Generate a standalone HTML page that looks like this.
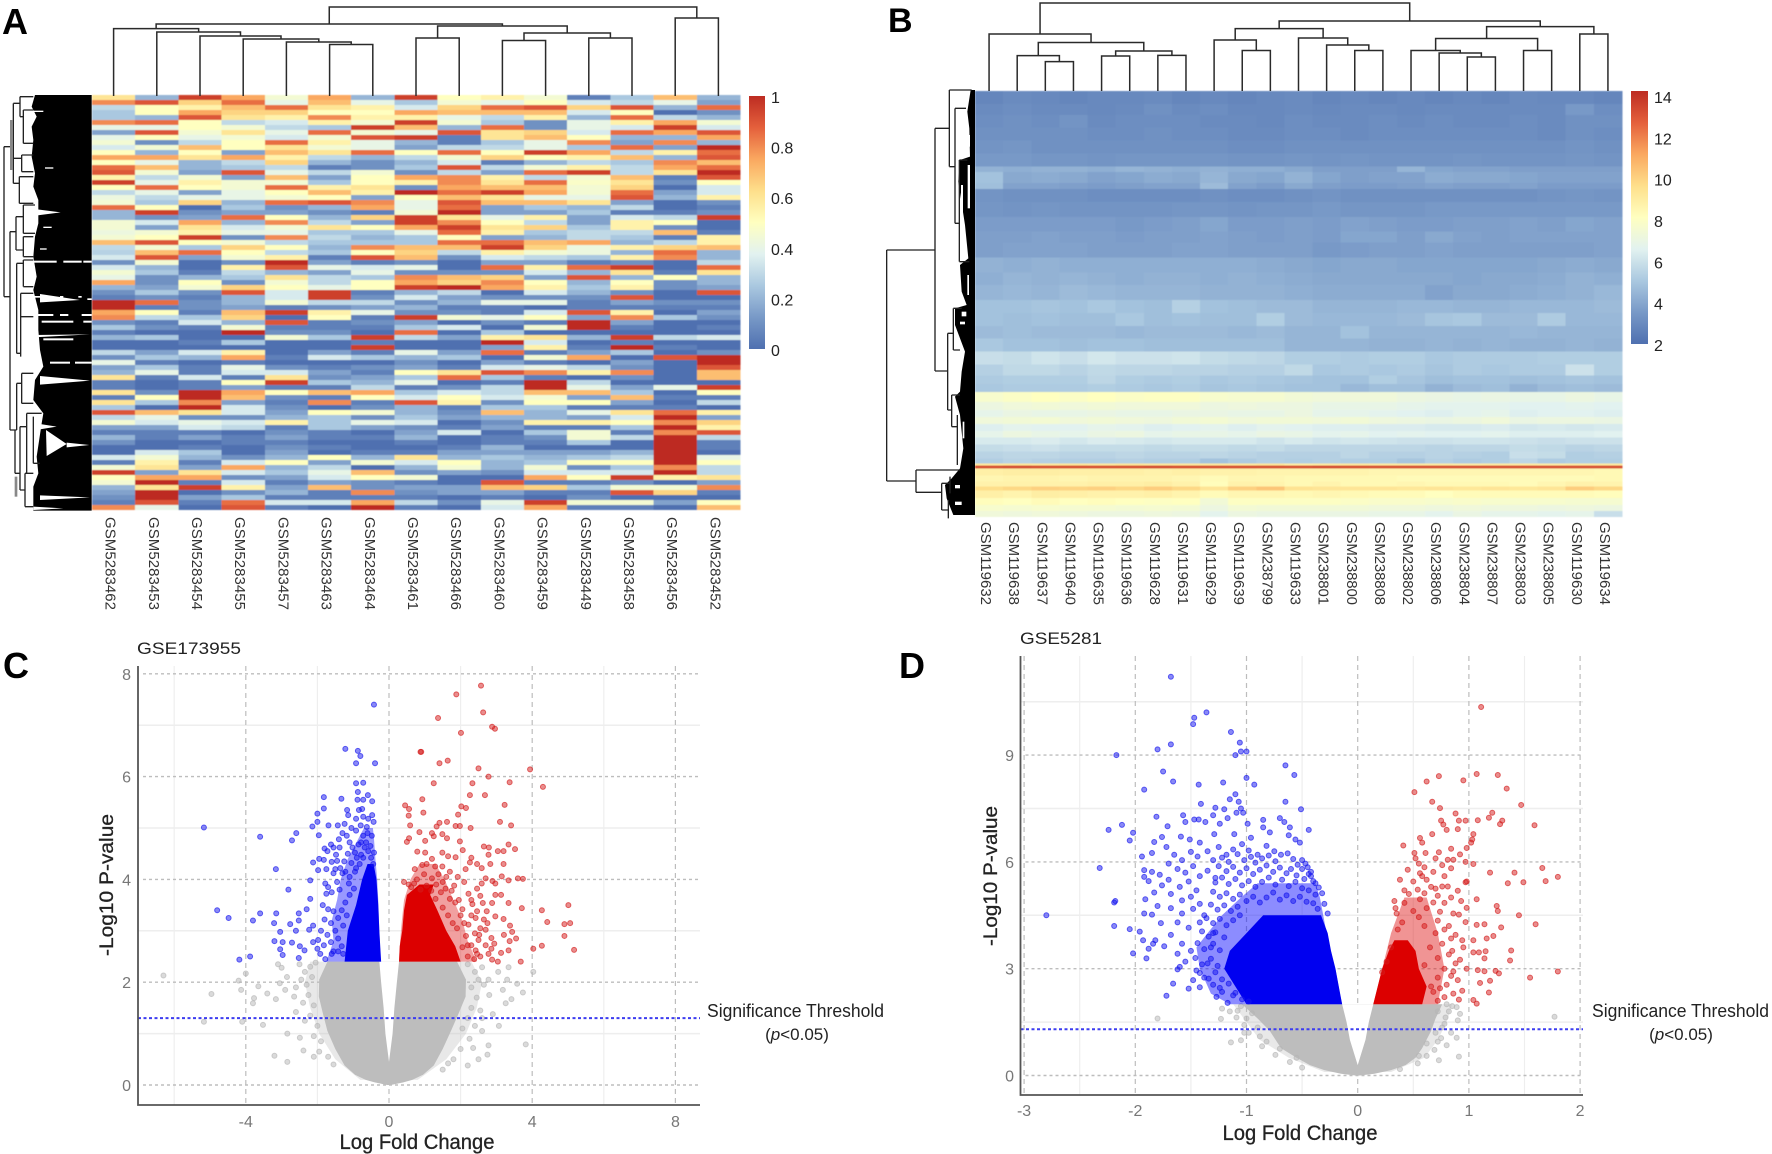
<!DOCTYPE html>
<html lang="en">
<head>
<meta charset="utf-8">
<title>Heatmaps and volcano plots</title>
<style>
html,body{margin:0;padding:0;background:#fff}
svg{display:block}
text{font-family:"Liberation Sans",sans-serif}
</style>
</head>
<body>
<svg id="figure" xmlns="http://www.w3.org/2000/svg" width="1772" height="1154" viewBox="0 0 1772 1154">
<defs>
<linearGradient id="rdylbu" x1="0" y1="1" x2="0" y2="0">
<stop offset="0" stop-color="#4F70B0"/><stop offset=".125" stop-color="#7899C7"/><stop offset=".25" stop-color="#AAC8E0"/><stop offset=".375" stop-color="#E2F2F0"/><stop offset=".5" stop-color="#FFFFC0"/><stop offset=".625" stop-color="#FEDF8B"/><stop offset=".75" stop-color="#FAA860"/><stop offset=".875" stop-color="#E4603C"/><stop offset="1" stop-color="#BD2C22"/>
</linearGradient>
<filter id="soft" x="-2%" y="-2%" width="104%" height="104%"><feGaussianBlur stdDeviation="0.6"/></filter>
</defs>
<rect width="1772" height="1154" fill="#fff"/>

<text x="2" y="34" font-size="36" font-weight="700">A</text>
<text x="888" y="32" font-size="34" font-weight="700">B</text>
<text x="3" y="678" font-size="36" font-weight="700">C</text>
<text x="899" y="678" font-size="36" font-weight="700">D</text>

<g id="panelA"></g>
<g id="panelB"></g>

<g transform="translate(0 90) scale(.33333)">
<polygon fill="#000" points="275,15 105,15 95,50 110,80 95,110 100,150 95,200 105,250 100,290 115,330 115,400 105,440 100,500 110,560 100,600 115,660 115,720 120,780 130,830 105,870 100,930 130,970 125,1000 110,1100 115,1150 100,1190 100,1262 275,1262"/>
<g fill="#fff">
<polygon points="112,358 182,367 112,376"/><polygon points="120,612 240,630 120,637"/><polygon points="120,858 270,872 120,884"/><polygon points="138,1020 200,1062 140,1098"/><polygon points="120,1216 270,1222 120,1230"/><polygon points="100,1250 190,1255 100,1260"/><polygon points="108,1000 170,1010 108,1020"/><polygon points="200,1058 268,1065 200,1072"/><polygon points="100,735 270,733 100,742"/>
<rect x="95" y="512" width="75" height="6"/><rect x="190" y="512" width="55" height="6"/><rect x="250" y="512" width="25" height="6"/>
<rect x="95" y="618" width="60" height="5"/><rect x="180" y="618" width="10" height="5"/><rect x="235" y="618" width="10" height="5"/><rect x="262" y="625" width="13" height="5"/>
<rect x="100" y="672" width="60" height="6"/><rect x="180" y="672" width="25" height="6"/><rect x="245" y="672" width="30" height="6"/>
<rect x="125" y="692" width="95" height="6"/><rect x="250" y="692" width="25" height="6"/><rect x="130" y="745" width="90" height="6"/><rect x="150" y="815" width="60" height="6"/><rect x="225" y="815" width="50" height="6"/>
<rect x="120" y="475" width="20" height="4"/><rect x="130" y="410" width="25" height="4"/><rect x="135" y="232" width="25" height="4"/><rect x="100" y="62" width="30" height="4"/>
</g>
<path fill="none" stroke="#222" stroke-width="4" d="M12 170V620M12 170H40M12 620H30M40 40V280M40 40H60M60 20V80M60 20H100M60 80H70M70 60V160M70 60H100M70 160H100M40 205H65M65 195V245M65 195H100M65 245H100M40 280H58M58 260V340M58 260H100M58 340H100M30 425V1020M30 425H48M48 380V480M48 380H70M70 345V430M70 345H105M70 430H105M48 480H70M70 440V500M70 440H100M70 500H100M50 520V790M50 520H70M70 510V590M70 510H100M70 590H100M50 790H62M62 610V800M62 610H100M62 680H100M30 1020H50M50 880V1020M50 880H65M65 850V940M65 850H100M65 940H100M45 1020V1150M45 1150H60M60 1010V1200M60 1010H80M80 970V1150M80 970H125M100 980V1120M100 1120H120M60 1200H75M75 1150V1250M75 1150H100M75 1250H100"/>
<rect x="30" y="90" width="9" height="150" fill="#888"/>
<rect x="44" y="1160" width="8" height="60" fill="#888"/>
</g>

<g transform="translate(880 85) scale(.33333)">
<polygon fill="#000" points="285,15 272,15 262,80 268,130 270,215 240,225 235,290 255,420 265,520 240,540 245,620 260,660 225,670 225,720 255,800 245,860 240,920 225,935 240,990 250,1090 240,1150 215,1180 195,1200 200,1240 220,1290 285,1290"/>
<g fill="#fff">
<rect x="263" y="240" width="7" height="130"/><rect x="243" y="300" width="6" height="90"/><rect x="262" y="570" width="5" height="60"/><rect x="245" y="680" width="14" height="14"/><rect x="240" y="710" width="15" height="8"/><rect x="265" y="150" width="5" height="35"/><rect x="248" y="1010" width="5" height="50"/><rect x="225" y="1200" width="15" height="10"/><rect x="225" y="1250" width="20" height="10"/>
</g>
<path fill="none" stroke="#222" stroke-width="4" d="M20 495V1188M20 495H165M20 1188H108M165 130V858M165 130H208M165 858H203M208 15V245M208 15H275M208 245H225M225 70V415M225 70H258M225 415H238M238 225V530M238 225H262M238 530H268M203 745V975M203 745H220M203 975H215M220 670V795M220 670H245M220 795H240M215 930V1025M215 930H240M215 1025H232M232 990V1140M108 1155V1222M108 1155H240M108 1222H185M185 1195V1275M185 1195H210M185 1275H205M210 1175V1225M205 1245V1300"/>
</g>

<g id="panelC"></g>
<g id="panelD"></g>

<text x="137" y="654" font-size="17" fill="#222" textLength="104" lengthAdjust="spacingAndGlyphs">GSE173955</text>
<text x="1020" y="644" font-size="17" fill="#222" textLength="82" lengthAdjust="spacingAndGlyphs">GSE5281</text>
<text x="417" y="1149" text-anchor="middle" font-size="21" fill="#222" stroke="#222" stroke-width=".3" textLength="155" lengthAdjust="spacingAndGlyphs">Log Fold Change</text>
<text x="1300" y="1140" text-anchor="middle" font-size="21" fill="#222" stroke="#222" stroke-width=".3" textLength="155" lengthAdjust="spacingAndGlyphs">Log Fold Change</text>
<text transform="translate(113 885) rotate(-90)" text-anchor="middle" font-size="19" fill="#222" stroke="#222" stroke-width=".3" textLength="142" lengthAdjust="spacingAndGlyphs">-Log10 P-value</text>
<text transform="translate(997 876) rotate(-90)" text-anchor="middle" font-size="19" fill="#222" stroke="#222" stroke-width=".3" textLength="140" lengthAdjust="spacingAndGlyphs">-Log10 P-value</text>
<text x="707" y="1017" font-size="18" fill="#222" textLength="177" lengthAdjust="spacingAndGlyphs">Significance Threshold</text>
<text x="797" y="1040" text-anchor="middle" font-size="17" fill="#222">(<tspan font-style="italic">p</tspan>&lt;0.05)</text>
<text x="1592" y="1017" font-size="18" fill="#222" textLength="177" lengthAdjust="spacingAndGlyphs">Significance Threshold</text>
<text x="1681" y="1040" text-anchor="middle" font-size="17" fill="#222">(<tspan font-style="italic">p</tspan>&lt;0.05)</text>
</svg>

<script>
/* ---------- Heatmap A data: one array per sample column, values 0-1 ---------- */
const heatASamples = ['GSM5283462','GSM5283453','GSM5283454','GSM5283455','GSM5283457','GSM5283463','GSM5283464','GSM5283461','GSM5283466','GSM5283460','GSM5283459','GSM5283449','GSM5283458','GSM5283456','GSM5283452'];
const heatAColumns = [
[.6,.8,.3,.25,.25,.8,.4,.15,.4,.45,.35,.5,.75,.5,.85,.9,.55,.95,.5,.3,.42,.45,.85,.2,.2,.45,.45,.42,.45,.7,.3,.28,.35,.1,.35,.45,.4,.75,.2,.1,.05,1,
 1,.75,.8,.1,.25,.05,.2,0,0,.3,.1,.4,.15,.2,.6,.05,.05,.6,.05,.6,.25,.9,.3,.45,.15,.05,.2,.1,0,0,.35,.05,.45,.95,.5,.45,.2,.15,.1,.05,.8],
[.2,.9,.5,.5,.2,.85,.4,.9,.5,.1,.45,.2,.75,.4,.7,.45,.3,.4,.85,.4,.3,.25,.5,.95,.1,.35,.15,.45,.5,.9,.45,.7,.9,.45,.2,.25,.1,.1,.15,.25,.1,.85,
 .05,.5,.3,.05,.1,0,.25,0,0,.15,.25,.05,.25,.4,.05,0,0,.1,.5,.25,0,.7,.4,.35,.15,.05,.05,0,0,.35,.45,.55,.6,.15,.75,1,.6,1,1,.9,.4],
[.95,.65,.55,.75,.9,.5,.5,.45,.4,.3,.7,.5,.6,.2,.2,.15,.45,.55,.5,.15,.4,.65,0,.1,.15,.75,.6,.55,.95,.5,.25,.85,.15,0,0,.05,.2,.5,.45,.1,.05,.1,
 .1,.05,.25,.35,.05,0,0,.05,0,.35,.2,0,.05,.05,.35,.05,.05,1,1,.8,1,.6,.1,.4,.35,.05,.15,0,.05,.25,.2,.05,.15,.6,.75,.05,.95,0,.15,.05,0],
[.75,.85,.7,.65,.6,.3,.45,.6,.45,.5,.5,.15,.75,.3,.25,.9,.15,.45,.45,.4,.4,.2,.25,.15,.85,.2,.35,.4,.1,.45,.65,.5,.45,.1,.55,.3,.25,.1,.65,.9,.2,.2,
 .15,.7,.65,.2,.45,1,0,.25,0,.55,.75,.05,.4,.35,.05,.5,.15,.75,.7,.15,.35,.35,.1,.35,.3,0,.05,.05,0,0,.1,.35,.75,.35,.1,.35,.55,.1,.25,.85,.9],
[.45,.4,.85,.65,.55,.35,.3,.4,.35,.85,.6,.7,.55,.65,.3,.4,.7,.45,.85,.5,.45,.85,.1,.15,.5,.8,.45,.4,.8,.3,.5,.3,.55,1,.9,.2,.6,.45,.5,.35,.35,.45,
 .05,.95,0,.9,.05,.1,.45,0,0,0,.05,0,.1,.35,.6,.95,.05,.5,.1,.05,.1,.15,.2,.55,.05,.1,.15,.05,.1,.15,.2,.5,.2,.25,.15,.05,.15,.2,.05,.35,.05],
[.75,.7,.6,.5,.8,.55,.25,.85,.45,.55,.45,.6,.3,.2,.05,.3,.15,.25,.55,.7,.5,.9,.2,.1,.2,.3,.6,.25,.3,.25,.2,.25,.05,.15,.4,.15,.3,.3,.4,.95,.95,.3,
 .1,.55,.5,.05,.05,.1,.25,0,0,.15,.35,0,.05,.15,.1,.25,.05,.7,.05,.8,0,.5,.25,.25,.25,.05,.05,0,.05,0,.5,.15,.3,.4,.35,.15,.7,.05,.05,.35,0],
[.2,.4,.55,.5,.55,.45,.95,.45,.9,.4,.4,.85,.2,.1,.1,.45,.5,.5,.6,.55,.15,.8,.75,.05,.65,.15,.5,.25,.2,.25,.8,.5,.9,.05,.35,.4,.25,.5,.5,.05,.1,.3,
 .15,.4,.05,.1,.05,0,.95,.05,.95,.05,.25,0,.1,.05,.15,.2,.3,.75,.5,.05,.1,.45,.1,.4,.15,0,.05,0,0,.05,.2,.45,0,.7,.5,.1,.1,.8,.05,.75,1],
[.95,.25,.35,.75,.55,.95,.7,.4,.95,.2,.15,.5,.3,.2,.25,.1,.75,.55,.1,1,.5,.4,.4,.45,.95,.95,.75,.4,.25,.25,.7,.65,.7,.1,.4,.1,.8,.75,.95,.2,.35,.1,
 .2,.1,.95,.15,.25,.85,.3,0,0,.4,.2,.1,.15,.5,.25,.4,.05,.25,.35,.9,.2,.2,.25,.35,.1,.15,.2,.05,0,.05,.6,.35,.2,.1,.45,.05,.15,.1,.05,.3,.05],
[.5,.45,.65,.7,.4,.45,.2,.9,.05,.05,.3,.85,.45,.35,.9,.3,.8,.8,.75,.85,.7,.9,.85,1,.6,.8,.95,.85,.5,.85,.7,.3,.1,0,0,.1,.7,.65,1,.3,.15,.2,
 .05,.1,.45,0,.35,0,.15,0,0,.15,.25,0,.05,.6,.85,0,.1,.35,.5,.55,.05,.1,.15,0,.05,.35,0,0,.05,.15,.2,.5,.45,.15,0,0,.15,.15,0,.1,0],
[.55,.4,.85,.7,.3,.25,.85,.6,.6,.25,.3,.5,.65,.05,.3,.15,.55,.6,.7,.95,.6,.7,.15,.15,.4,.5,.6,.55,.15,.85,.95,.55,.35,.15,.85,.1,.65,.8,.75,0,.1,.4,
 .05,.05,.4,.1,0,.25,.55,1,.15,.85,0,.15,.35,.9,.25,.05,.3,.3,.35,.1,.25,.7,.2,.1,.15,0,.05,.05,.2,.15,.25,.2,.2,.1,0,.9,.7,.15,.05,.4,.35],
[.45,.5,.9,.7,.55,.1,.1,.65,.7,.4,.4,.95,.5,.2,.45,.85,.3,.85,.7,.75,.4,.7,.25,.15,.55,.3,.65,.25,.2,.7,.65,.45,.3,.15,.55,.35,.15,.5,.55,.35,.1,.4,
 0,.35,.5,.05,.45,0,.6,.35,.55,.05,.45,.05,.4,.8,.05,1,1,.7,.45,.5,.25,.2,.2,.55,.05,.25,.1,.05,0,.15,.2,.25,.45,.35,.75,.05,.65,.05,0,.95,.75],
[.05,.35,.65,.35,.2,.4,.4,.35,.5,.8,.25,.75,.55,.3,.55,.95,.45,.48,.45,.45,.4,.6,.2,.25,.15,.15,.25,.3,.3,.75,.42,.42,.25,.05,.85,.2,.9,.2,.25,.2,.1,.05,
 .05,.9,.15,1,1,0,.2,0,.05,.15,.75,0,.3,.55,0,.3,.4,.7,.15,.5,.05,.4,.15,.55,.05,.45,.45,.25,0,.15,.25,.5,.1,.35,.5,.05,.25,.05,.1,.45,.05],
[.25,.3,.9,.5,.85,.55,.35,.85,.2,.15,.85,.3,.7,.25,.3,.3,.7,.6,.65,.85,.9,.15,.3,.05,.35,.55,.55,.3,.25,.2,.55,.2,.55,.1,.95,.6,.2,.5,.55,.1,.9,.15,
 .05,.55,.8,.15,.05,0,.95,.05,1,.25,0,.15,.1,.8,.1,0,.15,.25,.7,.15,.05,.6,.35,.5,.25,.05,.3,0,0,.2,.3,.5,.25,.35,.95,.1,.45,.9,0,.45,.05],
[.7,.4,.2,0,.3,.75,.95,.75,.2,.8,.15,.55,.2,.8,.75,.6,.05,.1,0,.15,.2,0,0,.05,.3,.5,.1,.7,.05,.3,.65,.85,.8,0,0,.05,.5,.1,.1,0,0,.1,
 .05,0,.25,0,0,0,.3,0,.05,0,.9,0,0,0,0,0,.4,0,.05,0,.05,.85,1,.8,1,.8,1,1,1,1,1,1,.8,1,.55,0,.45,.65,0,.15,0],
[.2,.15,.85,.1,.2,.45,.35,.9,.75,.2,1,.85,.9,.7,.85,1,.9,.5,.35,.35,.55,.1,.05,.1,.95,0,0,.05,.55,.55,.7,.2,.2,.3,.85,.6,.2,.2,.15,.9,0,.1,
 .05,.15,.1,0,.05,0,.35,0,0,.1,1,1,.9,.7,.7,0,.95,.5,.05,.3,0,.55,.15,.65,.55,.9,.3,.05,.05,0,.4,.5,.3,.3,.6,.15,.8,.05,0,.5,.7]
];
const heatATicks = [1,.8,.6,.4,.2,0];

/* ---------- Heatmap B data: rows of expression values per sample, plus genes in each row band ---------- */
const heatBSamples = ['GSM119632','GSM119638','GSM119637','GSM119640','GSM119635','GSM119636','GSM119628','GSM119631','GSM119629','GSM119639','GSM238799','GSM119633','GSM238801','GSM238800','GSM238808','GSM238802','GSM238806','GSM238804','GSM238807','GSM238803','GSM238805','GSM119630','GSM119634'];
const heatBRowGenes = [13,11,13,13,13,13,6,11,6,13,15,15,11,15,15,13,15,13,13,13,13,13,11,9,8,10,8,7,7,7,7,7,7,7,5,2,3,7,6,5,4,8,7,6,6];
const heatBRows = [
[2.8,3,2.9,2.8,2.9,2.9,3,2.8,2.9,2.8,2.9,3,2.8,2.9,2.8,2.9,2.8,2.9,2.8,3,2.9,2.9,2.8],
[3,3.1,3,3,2.9,3,3.2,3,3.1,2.9,2.9,3,2.9,3,3,2.9,3,3,3,3,3,3.5,3.1],
[3.1,3.2,3.1,3.3,3,3.1,3.1,3.1,3,3,2.9,3.1,3,3,3.1,3,3.1,3,3,3.1,3,3.2,3.2],
[3.2,3.2,3.2,3.2,3.1,3.1,3.2,3.1,3.1,3,3,3.1,3.1,3,3.1,3.1,3.1,3.1,3.1,3.1,3,3.2,3.1],
[3.3,3.4,3.2,3.2,3.2,3.2,3.2,3.2,3.2,3.1,3.1,3.2,3.2,3.2,3.2,3.2,3.2,3.2,3.2,3.2,3.2,3.3,3.2],
[3.5,3.5,3.4,3.4,3.3,3.4,3.4,3.4,3.4,3.3,3.3,3.4,3.3,3.4,3.3,3.3,3.3,3.4,3.3,3.3,3.3,3.4,3.3],
[4.3,4.2,4.3,4.3,4.2,4.4,4.3,4.2,4.3,4.2,4.2,4,3.7,3.7,3.7,4.4,3.9,3.8,3.8,3.7,3.7,3.7,3.7],
[4.8,4,4.1,4,3.8,3.9,4.1,4,4.4,4,3.9,4.3,3.9,3.7,3.8,3.8,4.1,4,4,3.9,3.8,3.8,3.8],
[4.7,3.8,3.8,3.7,3.6,3.7,3.8,3.8,4.6,3.8,3.6,4,3.7,3.6,3.6,3.7,3.8,3.7,3.7,3.8,3.6,3.6,3.6],
[3.3,3.2,3.2,3.2,3.1,3.1,3.1,3.1,3.2,3.1,3.1,3.2,3.3,3.2,3.2,3.2,3.2,3.2,3.2,3.2,3.3,3.4,3.3],
[3.4,3.3,3.4,3.3,3.3,3.3,3.3,3.4,3.4,3.3,3.4,3.4,3.5,3.4,3.4,3.4,3.5,3.5,3.5,3.5,3.5,3.5,3.5],
[3.6,3.6,3.6,3.6,3.6,3.5,3.6,3.7,3.9,3.6,3.6,3.7,3.6,3.8,3.7,3.6,3.6,3.7,3.7,3.8,3.7,3.9,3.8],
[3.7,3.7,3.8,3.7,3.7,3.6,3.7,3.7,3.8,3.7,3.6,3.7,3.6,3.9,3.9,3.7,4,3.8,3.7,3.8,3.8,3.8,3.8],
[3.7,3.8,3.8,3.8,3.7,3.7,3.7,3.8,3.8,3.7,3.7,3.7,3.5,3.6,3.7,3.7,3.8,3.7,3.7,3.7,3.7,3.7,3.8],
[4.3,4.2,4.3,4.2,4.2,4.2,4.2,4.2,4.2,4.2,4.1,4,3.9,4,4,3.9,3.9,3.9,3.9,3.9,4,4.1,4],
[4.2,4.4,4.3,4.4,4.3,4.2,4.3,4.3,4.2,4.3,4.2,4.1,4,4,4,4,4,3.9,4,4,4.1,4.3,4.2],
[4.4,4.5,4.4,4.6,4.5,4.4,4.4,4.4,4.3,4.3,4.3,4.2,4.1,4.1,4.1,4.1,3.8,4,4,4.1,4.2,4.3,4.5],
[4.8,4.8,4.9,4.8,5,4.8,4.7,5.3,4.8,4.7,4.6,4.6,4.4,4.4,4.4,4.5,4.5,4.4,4.4,4.5,4.5,4.5,4.6],
[4.8,4.7,4.8,4.7,4.7,5,4.7,4.8,4.7,4.7,5.2,4.6,4.5,4.5,4.5,4.6,4.9,5,4.6,4.6,5.1,4.5,4.5],
[4.6,4.7,4.6,4.6,4.6,4.5,4.6,4.6,4.6,4.5,4.6,4.4,4.4,4.8,4.4,4.4,4.4,4.4,4.4,4.5,4.4,4.4,4.4],
[5,4.8,4.8,4.7,4.8,4.8,4.7,4.7,4.7,4.7,4.7,4.4,4.4,4.4,4.3,4.3,4.4,4.3,4.4,4.3,4.3,4.4,4.3],
[5.8,5.7,6,5.8,6.1,5.9,5.9,6,5.7,5.6,5.5,5.2,5.2,5.1,5.2,5.2,5,5.1,5.1,5.1,5.2,5.2,5.2],
[5.3,5.6,5.6,5.4,5.6,5.5,5.5,5.4,5.4,5.3,5.3,5.6,5,5.1,5,5.1,4.9,5.1,5,5.1,5.1,5.9,5.2],
[5.1,5.2,5.2,5.2,5.5,5.2,5.1,5.2,5,5.1,5,4.9,4.8,4.8,5.2,4.9,4.7,4.8,4.8,4.7,4.8,4.9,4.8],
[5,5.1,5.1,5.1,5.2,5.1,5,5.1,4.9,5,4.9,4.8,4.8,4.5,4.7,4.7,4.3,4.6,4.7,4.3,4.6,4.7,4.6],
[7.6,7.8,8,7.8,8,7.8,7.9,7.9,7.6,7.5,7.5,7.3,7.2,7.2,7.2,7,6.9,6.8,6.9,6.8,6.8,7,6.8],
[7,7.2,7.3,7.2,7.3,7.2,7.2,7.2,7,7.1,7,7,6.8,6.8,6.8,6.7,6.6,6.6,6.6,6.5,6.5,6.6,6.5],
[6.7,6.9,6.8,6.8,6.9,6.8,6.8,6.9,6.9,6.8,6.8,7,6.7,6.7,6.6,6.5,6.4,6.6,6.7,6.4,6.5,6.5,6.4],
[7.2,7.3,7.4,7.2,7.3,7.2,7.1,7.3,7.4,7.2,7.3,7.3,7.2,7.3,7.1,7,6.9,7,7.2,6.9,7,7,6.9],
[6.4,6.6,6.5,6.5,6.7,6.6,6.4,6.5,6.6,6.4,6.6,6.5,6.4,6.4,6.3,6.3,6.2,6.2,6.3,6.1,6.2,6.1,6.2],
[6.7,7,6.8,6.7,6.9,7,6.7,6.8,6.8,6.7,6.9,6.8,6.6,6.7,6.5,6.6,6.5,6.5,6.6,6.4,6.4,6.4,6.5],
[6.2,6.2,6.3,6.1,6.3,6.2,6.1,6.2,6.2,6.2,6,6.2,6,6.1,6,5.9,5.9,6,6,5.9,5.8,5.9,5.9],
[5.7,5.8,5.9,5.7,5.7,5.7,5.6,5.7,5.7,5.6,5.7,5.5,5.5,5.5,5.5,5.5,5.4,5.5,5.5,5.7,5.6,5.4,5.5],
[5.4,5.5,5.5,5.4,5.4,5.5,5.4,5.4,5.5,5.4,5.3,5.3,5.3,5.5,5.3,5.3,5.4,5.3,5.2,5.8,5.7,5.2,5.3],
[5.2,5.4,5.3,5.2,5.2,5.3,5.2,5.2,4.8,5.1,5.3,5.2,5.3,5.2,5.2,4.9,5.3,5.1,5.2,5.5,5.1,5.2,5.2],
[9,9.1,9,9.1,9,9.1,9,9,9,9,9.1,8.8,8.9,9,8.9,8.9,8.9,8.8,8.9,8.9,8.8,8.9,8.9],
[13,13.1,13,13,13,13,13.1,13,13,13,13,13,13.1,13,13,13,13,13,13,13,13,13,13],
[8.7,8.8,8.8,8.7,8.7,8.7,8.6,8.7,8.6,8.6,8.5,8.5,8.5,8.5,8.4,8.4,8.4,8.4,8.4,8.4,8.4,8.4,8.3],
[8.4,8.5,8.5,8.4,8.5,8.5,8.5,8.4,8.2,8.4,8.4,8.3,8.3,8.3,8.3,8.2,8.2,8.2,8.2,8.2,8.2,8.2,8.3],
[8.6,8.6,8.6,8.6,8.7,8.7,8.8,8.6,8.1,8.6,8.5,8.3,8.5,8.3,8.3,8.4,8.3,8.3,8.3,8.2,8.4,8.6,8.5],
[9.5,9.7,9.9,9.8,9.9,9.7,10,9.7,9.2,9.9,10.2,9.3,9.2,9.2,9.2,9.1,9.2,9.1,9.2,9.1,9.2,10,9.7],
[8.7,8.5,8.8,8.7,8.6,8.6,8.7,8.5,8.2,8.4,8.4,8.3,8.4,8.3,8.2,8.2,8,8.2,8.2,8.2,8.2,8.2,8.1],
[8.1,8,8.2,8,8.1,8,7.9,8,7.3,7.9,7.9,7.9,7.9,7.8,7.7,7.7,7.6,7.7,7.6,7.6,7.6,7.5,7.5],
[7.6,7.5,7.6,7.5,7.5,7.4,7.5,7.4,7,7.4,7.3,7.3,7.3,7.3,7.2,7.2,7.1,7.2,7.1,7.1,7,7.1,7],
[7.2,7.1,7.2,7.1,7,7,7.1,7,6.6,7,6.9,6.9,6.9,6.9,6.8,6.8,6.6,6.9,6.7,6.7,6.6,6.7,5.8]
];
const heatBTicks = [14,12,10,8,6,4,2];

/* ---------- Dendrogram trees: [height, left, right], leaves are column indices ---------- */
const heatATree = [89,[72,[67.4,0,[64,1,[60,2,[57,3,[54,4,[51.5,5,6]]]]]],[70,[58,7,8],[63,[55.5,9,10],[58,11,12]]]],[78,13,14]];
const heatBTree = [88,[57,0,[48.5,[35.4,1,[29.4,2,3]],[40,[35,4,5],[35.6,6,7]]]],[70,[62.4,[51,8,[40.5,9,10]],[53,11,[46,12,[40.5,13,14]]]],[64.4,[52.5,[40.5,15,[38,16,[34,17,18]]],[40.5,19,20]],[57,21,22]]]];

/* ---------- Volcano C data: [log fold change, -log10 p] ---------- */
const cXTicks = [-4,0,4,8];
const cYTicks = [0,2,4,6,8];
const cXMinor = [-6,-2,2,6];
const cYMinor = [1,3,5,7];
const cThreshold = 1.3;
const cBlue = [[-5.17,5.01],[-3.6,4.83],[-2.59,4.9],[-2.71,4.76],[-2.14,5.03],[-2,5.28],[-1.82,5.6],[-1.82,5.38],[-1.33,5.57],[-1.22,6.54],[-.87,6.5],[-.8,6.4],[-.92,6.26],[-.39,6.26],[-.42,7.4],[-.92,5.87],[-.72,5.88],[-.87,5.7],[-.59,5.64],[-.47,5.52],[-.88,5.55],[-.72,5.55],[-.75,5.37],[-1.17,5.35],[-1.14,5.25],[-2,5.12],[-1.69,5.05],[-1.43,5.05],[-1.24,5.08],[-.92,5.18],[-.79,5.05],[-.47,5.25],[-.43,5.12],[-1.96,4.86],[-1.4,4.78],[-1.3,4.9],[-2.12,4.33],[-3.16,4.2],[-2.81,3.8],[-2.2,3.98],[-4.8,3.4],[-4.48,3.25],[-3.8,3.2],[-3.6,3.34],[-3.15,3.34],[-3.21,3.15],[-2.52,3.34],[-2.3,3.42],[-2.76,3.13],[-2.52,3.2],[-3.04,2.98],[-2.6,3],[-3.2,2.8],[-2.97,2.78],[-2.71,2.77],[-3.04,2.64],[-2.97,2.53],[-3.88,2.5],[-4.18,2.44],[-2.52,2.47],[-2.49,2.7],[-2.36,2.62],[-2.12,2.78],[-2.2,3.62],[-2.12,3.1],[-2.23,3.02],[-2,2.65],[-1.8,4.6],[-1.72,4.55],[-1.55,4.62],[-1.95,4.4],[-1.82,4.38],[-1.6,4.34],[-1.45,4.36],[-1.98,4.18],[-1.75,4.2],[-1.55,4.12],[-1.78,3.92],[-1.7,3.85],[-1.45,3.95],[-1.75,3.72],[-1.6,3.75],[-1.38,3.8],[-1.85,3.5],[-1.7,3.42],[-1.55,3.38],[-1.8,3.22],[-1.62,3.15],[-1.42,3.25],[-1.9,3],[-1.72,2.92],[-1.5,3],[-1.98,2.82],[-1.82,2.72],[-1.62,2.78],[-1.92,2.55],[-1.78,2.45],[-1.6,2.55],[-1.42,2.6],[-.92,4.95],[-.72,4.85],[-.6,4.9],[-.48,4.85],[-1.1,4.72],[-.85,4.68],[-.68,4.62],[-.52,4.65],[-1.15,4.5],[-.95,4.52],[-.78,4.48],[-.42,4.52],[-1.25,4.35],[-1.05,4.32],[-.82,4.3],[-1.3,4.12],[-1.1,4.05],[-.95,4.15],[-1.1,3.7],[-1.22,3.55],[-1.32,3.4],[-1.18,3.3],[-1.28,3.1],[-1.42,2.85],[-1.32,2.7],[-1.55,2.6],[-1.28,2.55],[-1.12,3.92],[-.98,3.82],[-.92,4.22],[-.72,4.42],[-.58,4.55],[-.5,4.42],[-.44,4.3],[-.9,4.42],[-1.02,4.62],[-.64,4.72],[-.78,4.72],[-.62,5.02],[-.58,5.18],[-.72,5.22],[-.84,5.35],[-1.05,5],[-1.18,4.85],[-1.38,4.62],[-1.48,4.48],[-1.62,4.68],[-1.5,4.2],[-1.36,4.22],[-1.22,4.15]];
const cRed = [[2.57,7.77],[1.88,7.6],[2.63,7.25],[1.37,7.14],[2.88,6.97],[2.96,6.93],[2.01,6.85],[.88,6.48],[.9,6.48],[1.41,6.26],[1.64,6.31],[2.5,6.16],[3.94,6.14],[2.78,6],[3.37,5.89],[4.3,5.8],[1.25,5.87],[2.33,5.87],[2.26,5.64],[2.68,5.64],[.93,5.56],[3.23,5.45],[.45,5.44],[.56,5.37],[.55,5.24],[.96,5.3],[2.02,5.42],[2.15,5.39],[1.93,5.26],[1.62,5.12],[1.41,5.1],[1.33,5.03],[.59,5.05],[1.86,5.04],[1.98,5.04],[2.28,5],[3.1,5.12],[3.41,5.05],[1.2,4.9],[1.49,4.88],[.85,4.92],[1.25,4.84],[.56,4.8],[.5,4.73],[1.01,4.75],[1.62,4.8],[1.98,4.74],[2.65,4.64],[2.79,4.62],[3.34,4.68],[3.52,4.59],[3.04,4.55],[3.2,4.55],[2.78,4.48],[.79,4.54],[1.01,4.52],[1.49,4.52],[1.65,4.45],[1.86,4.43],[2.3,4.42],[2.06,4.57],[2.26,4.33],[2.46,4.3],[2.83,4.3],[3.2,4.3],[.93,4.28],[1.29,4.25],[1.49,4.25],[2.14,4.2],[2.59,4.22],[3.15,4.06],[2.7,4.02],[2.89,3.97],[3.34,3.98],[3.6,4.02],[3.74,4.01],[2.97,3.92],[2.59,3.92],[2.46,3.82],[2.22,3.72],[2.55,3.68],[2.97,3.7],[3.13,3.7],[2.62,3.54],[2.88,3.54],[3.34,3.54],[2.33,3.52],[3.71,3.44],[4.27,3.4],[5.01,3.5],[2.73,3.38],[2.46,3.38],[2.97,3.28],[3.2,3.23],[4.42,3.17],[4.9,3.13],[5.06,3.15],[3.38,3.1],[3.44,2.98],[3.21,2.92],[3.55,2.85],[4.9,2.9],[2.86,2.86],[3.37,2.8],[2.94,2.75],[4.27,2.71],[4.03,2.65],[5.17,2.63],[2.86,2.65],[3.13,2.57],[2.78,2.55],[3.34,2.62],[3.68,2.4],[2.88,2.44],[3.04,2.4],[2.46,2.55],[2.38,2.45],[2.55,3.05],[2.4,2.95],[2.22,3.12],[2.65,3.22],[2.3,3.3],[2.05,3.42],[1.95,3.6],[1.75,3.78],[1.5,3.95],[1.2,4.02],[.7,3.92],[.55,3.9],[.42,3.95],[1.82,3.88],[1.6,4.05],[.98,4.1],[2.7,2.72],[2.5,2.82],[2.2,2.72],[.62,3.85],[.78,4],[.88,3.8],[1.05,3.88],[1.18,3.78],[1.32,3.9],[1.45,3.75],[1.58,3.82],[1.7,3.62],[1.85,3.55],[2,3.3],[2.1,3.15],[1.9,3.05],[2.15,2.9],[2.3,2.72],[2.05,2.68],[2.42,2.62],[2.2,2.5],[2.55,2.5],[1.65,3.3],[1.78,3.15],[1.5,3.45],[1.3,3.62],[1.05,4.3],[1.2,4.4],[.72,4.2],[1.38,4.1],[1.7,4.15],[1.92,4.05],[2.1,3.95],[2.3,3.6],[2.42,3.25],[2.52,2.92],[2.7,3.02],[2.75,3.15]];
const cGrey = [[-6.3,2.13],[-4.96,1.77],[-5.17,1.23],[-3.2,.57],[-2.84,.45],[-4,2.17],[-4.2,2.03],[-4.13,1.85],[-4.1,1.23],[-3.65,1.92],[-3.77,1.69],[-3.8,1.59],[-3.52,1.17],[-3.16,1.67],[-2.84,1],[-2.49,.92],[-2.39,.67],[-2.1,.55],[-3.1,2.35],[-3,2.28],[-2.85,2.1],[-3.05,1.98],[-2.9,1.85],[-3.4,1.78],[-2.6,1.42],[-2.65,1.72],[4.03,2.2],[3.34,2.29],[3.82,.79],[2.78,.77],[2.75,.59],[3.07,1.15],[3.26,1.59],[3.42,1.67],[3.74,1.8],[3.58,1.97],[3.18,1.85],[2.78,2.05],[2.6,2.29],[3.05,2.2],[3.3,2.05],[2.6,1.3],[2.9,1.38],[2.5,.5],[2.2,.38],[-2.05,2.38],[-2.2,2.3],[-2.35,2.2],[-2.5,2.35],[-2.45,2.05],[-2.3,1.95],[-2.15,2.1],[-2.6,1.9],[-2.25,1.75],[-2.4,1.6],[-2.1,1.55],[-2.2,1.35],[-2.35,1.25],[-2,1.15],[-2.1,.95],[-1.9,.85],[-1.95,.65],[-1.7,.55],[-1.55,.4],[2.2,2.35],[2.4,2.2],[2.5,2.05],[2.3,1.9],[2.65,1.95],[2.8,1.75],[2.45,1.7],[2.3,1.5],[2.55,1.45],[2.2,1.3],[2.4,1.15],[2.05,1.1],[2.6,1.05],[2.25,.9],[2,.7],[2.35,.72],[1.8,.5],[1.65,.42],[1.5,.3]];
const cGreyLevels = [0,.05,.1,.2,.38,.7,1.05,1.4,1.72,2.05,2.4];
const cGreyLeft = [-.05,-.4,-.65,-.95,-1.24,-1.5,-1.72,-1.85,-1.96,-1.95,-1.72];
const cGreyRight = [.05,.4,.65,.95,1.25,1.5,1.73,1.95,2.14,2.15,1.9];
const cGapLevels = [.45,1,1.5,2,2.4];
const cGapLeft = [0,-.1,-.15,-.22,-.27];
const cGapRight = [0,.1,.15,.22,.28];
const cGreyHaloLevels = [.1,.5,1,1.5,2,2.4];
const cGreyHaloLeft = [-.8,-1.5,-1.95,-2.2,-2.35,-2.2];
const cGreyHaloRight = [.8,1.6,2.15,2.45,2.6,2.3];
const cBlueHaloLevels = [2.4,2.8,3.2,3.6,4,4.4,4.8,5];
const cBlueHaloLeft = [-1.75,-1.55,-1.6,-1.45,-1.35,-1.15,-.85,-.7];
const cBlueHaloRight = [-.23,-.26,-.28,-.3,-.33,-.38,-.42,-.45];
const cBlueCoreLevels = [2.4,3,3.5,4,4.3];
const cBlueCoreLeft = [-1.24,-1.15,-.92,-.75,-.6];
const cBlueCoreRight = [-.22,-.27,-.3,-.35,-.43];
const cRedHaloLevels = [2.4,2.8,3.2,3.6,4,4.3];
const cRedHaloLeft = [.28,.31,.36,.42,.6,.85];
const cRedHaloRight = [2.45,2.2,2.05,1.8,1.55,1.3];
const cRedCoreLevels = [2.4,2.7,3,3.4,3.7,3.9];
const cRedCoreLeft = [.28,.3,.37,.42,.5,.85];
const cRedCoreRight = [2,1.85,1.6,1.35,1.15,1.25];

/* ---------- Volcano D data ---------- */
const dXTicks = [-3,-2,-1,0,1,2];
const dYTicks = [0,3,6,9];
const dXMinor = [-2.5,-1.5,-.5,.5,1.5];
const dYMinor = [1.5,4.5,7.5,10.5];
const dThreshold = 1.3;
const dBlue = [[-1.68,11.2],[-1.36,10.2],[-1.47,10.05],[-1.48,9.87],[-1.14,9.65],[-1.06,9.35],[-1.68,9.3],[-1.8,9.16],[-1.05,9.1],[-1,9.1],[-2.17,9],[-1.1,9],[-.65,8.71],[-.57,8.44],[-1.75,8.54],[-1.66,8.26],[-1,8.36],[-1.21,8.23],[-1.43,8.17],[-.93,8.17],[-1.92,8.03],[-1.1,7.9],[-1.15,7.76],[-1.07,7.69],[-.65,7.69],[-1.41,7.63],[-1.28,7.52],[-1.2,7.48],[-.51,7.48],[-1.05,7.5],[-1.09,7.38],[-1.03,7.38],[-1.57,7.31],[-1.3,7.31],[-1.81,7.27],[-1.47,7.19],[-1.43,7.19],[-1.55,7.12],[-1.37,7.12],[-1.17,7.23],[-1.24,7.07],[-.99,7.07],[-.85,7.18],[-.7,7.23],[-.66,7.12],[-.85,6.97],[-.61,6.97],[-2.12,7.04],[-2.24,6.9],[-1.71,7],[-2.02,6.82],[-.44,6.9],[-2.05,6.6],[-1.76,6.7],[-1.59,6.71],[-1.51,6.63],[-1.42,6.54],[-1.29,6.78],[-1.11,6.78],[-.96,6.68],[-.79,6.83],[-.62,6.75],[-.56,6.63],[-.52,6.54],[-1.83,6.56],[-1.72,6.42],[-1.85,6.25],[-1.94,6.15],[-2.32,5.83],[-1.92,5.77],[-1.92,5.58],[-1.85,5.72],[-1.78,5.64],[-1.88,5.46],[-1.76,5.34],[-1.83,5.14],[-1.91,4.95],[-1.8,4.76],[-2.19,4.86],[-2.18,4.9],[-1.92,4.55],[-1.85,4.52],[-2.8,4.5],[-2.19,4.2],[-2.05,4.11],[-1.96,4.04],[-1.77,4.28],[-1.93,3.8],[-1.82,3.8],[-1.84,3.7],[-1.74,3.63],[-1.88,3.56],[-2.02,3.43],[-1.9,3.29],[-1.62,2.98],[-1.66,2.58],[-1.52,2.44],[-1.72,2.24],[-1.42,2.48],[-1.27,2.21],[-1.17,2.04],[-1.65,6.2],[-1.58,6.05],[-1.5,6.28],[-1.44,6.15],[-1.35,6.3],[-1.3,6.05],[-1.25,6.42],[-1.18,6.2],[-1.12,6.35],[-1.04,6.5],[-.98,6.32],[-.9,6.2],[-.82,6.45],[-.75,6.3],[-1.7,5.95],[-1.62,5.8],[-1.55,5.7],[-1.48,5.88],[-1.42,5.6],[-1.35,5.75],[-1.28,5.55],[-1.7,5.5],[-1.6,5.3],[-1.52,5.45],[-1.45,5.2],[-1.68,5.1],[-1.58,4.92],[-1.5,5.02],[-1.42,4.82],[-1.68,4.7],[-1.58,4.55],[-1.48,4.68],[-1.38,4.5],[-1.62,4.3],[-1.52,4.15],[-1.42,4.3],[-1.68,3.95],[-1.58,3.7],[-1.5,3.5],[-1.62,3.42],[-1.55,3.2],[-1.45,2.95],[-1.38,2.75],[-1.3,2.55],[-1.48,2.68],[-1.6,3.05],[-1.35,3.15],[-1.32,3.6],[-1.3,4],[-1.22,2.35],[-1.12,2.25],[-.35,5.28],[-.32,5.12],[-.38,5.4],[-.42,5.6],[-.45,5.85],[-.42,5.72],[-.5,6.05],[-.3,4.82],[-.27,4.55],[-1.22,6.12],[-1.16,6],[-1.08,6.22],[-1.02,6.05],[-.96,6.14],[-.92,5.98],[-.86,6.1],[-.8,6.18],[-.74,6.02],[-.69,6.2],[-.63,6.24],[-.58,6.08],[-.54,5.92],[-.5,5.8],[-.47,5.95],[-1.25,5.88],[-1.18,5.74],[-1.12,5.86],[-1.06,5.7],[-1,5.82],[-.94,5.66],[-.88,5.78],[-.82,5.9],[-.76,5.72],[-.7,5.84],[-.64,5.68],[-.6,5.8],[-.55,5.62],[-.48,5.52],[-.44,5.66],[-.4,5.46],[-1.28,5.42],[-1.22,5.56],[-1.16,5.38],[-1.1,5.52],[-1.04,5.34],[-.98,5.46],[-.92,5.3],[-.86,5.44],[-.8,5.56],[-.74,5.36],[-.68,5.5],[-.62,5.32],[-.56,5.44],[-.5,5.26],[-.44,5.2],[-.38,5.08],[-1.3,5.16],[-1.24,5.02],[-1.18,5.12],[-1.12,4.96],[-1.06,5.08],[-1,4.9],[-.94,5.02],[-.88,4.86],[-.82,5],[-.76,5.14],[-.7,4.94],[-.64,5.06],[-.58,4.9],[-.52,5.02],[-.46,4.88],[-.4,4.84],[-.36,4.68],[-1.32,4.8],[-1.26,4.66],[-1.2,4.78],[-1.14,4.62],[-1.08,4.74],[-1.36,4.42],[-1.3,4.28],[-1.24,4.4],[-1.18,4.22],[-1.12,4.36],[-1.06,4.5],[-1.4,4.05],[-1.34,3.9],[-1.28,4.02],[-1.2,3.88],[-1.44,3.72],[-1.38,3.55],[-1.3,3.7],[-1.24,3.52],[-1.46,3.3],[-1.4,3.12],[-1.32,3.28],[-1.26,3.08],[-1.42,2.88],[-1.34,2.72],[-1.28,2.9],[-1.22,2.7],[-1.24,2.46],[-1.16,2.58],[-1.1,2.32],[-1.04,2.14],[-.98,2.08]];
const dRed = [[1.11,10.35],[1.07,8.47],[1.26,8.44],[.95,8.29],[.73,8.41],[.62,8.26],[.51,7.96],[1.34,8.06],[.67,7.69],[1.47,7.6],[.74,7.51],[.88,7.36],[1.21,7.38],[1.18,7.24],[1.08,7.17],[.91,7.16],[.97,7.16],[.75,7.16],[1.3,7.16],[1.28,7.06],[1.59,7.03],[.77,7.05],[.8,6.9],[.9,6.92],[1.04,6.78],[1.03,6.63],[.67,6.78],[.56,6.67],[.58,6.54],[.41,6.46],[.98,6.39],[1.02,6.54],[.84,6.37],[.61,6.25],[.73,6.27],[.51,6.25],[.92,6.21],[.52,6.1],[.7,6.1],[.81,6.06],[.86,6.06],[.97,6],[1.04,5.94],[.84,5.82],[.76,5.91],[1.19,5.7],[1.41,5.7],[1.66,5.83],[1.8,5.58],[1.69,5.46],[1.49,5.43],[1.35,5.4],[.97,5.43],[.98,5.45],[.76,5.31],[.81,5.31],[.9,5.19],[1.07,4.95],[1.25,4.76],[1.26,4.62],[.98,4.71],[.91,4.52],[1.45,4.5],[.97,4.31],[1.07,4.23],[1.14,4.25],[1.6,4.25],[1.29,4.16],[1.22,3.92],[1.16,3.85],[1.04,3.8],[.94,3.8],[1.38,3.51],[1.04,3.46],[1.09,3.46],[1.15,3.49],[1.14,3.29],[1.37,3.23],[1.08,2.96],[1.14,2.93],[1.24,2.94],[1.27,2.87],[1.8,2.92],[1.55,2.75],[1.19,2.66],[1.1,2.6],[.94,2.38],[1.18,2.33],[.91,2.13],[1.04,2.12],[1.07,2.02],[.86,2.3],[.8,2.55],[.84,2.8],[.9,2.68],[.98,3],[.92,3.25],[.85,3.5],[.95,3.6],[.88,3.95],[.82,4.2],[.86,4.55],[.78,4.85],[.72,5.05],[.66,5.3],[.58,5.6],[.45,5.78],[.38,5.5],[.42,5.2],[.33,4.9],[.35,4.55],[.6,5.85],[.55,5.95],[.68,5.72],[.78,5.6],[.93,4.9],[.84,5],[.72,2.1],[.78,2.2],[.68,2.35],[.34,4.7],[.42,4.85],[.5,4.62],[.56,4.95],[.62,4.7],[.68,4.86],[.74,4.6],[.46,5.1],[.54,5.22],[.6,5.12],[.7,5.25],[.5,5.45],[.62,5.5],[.56,5.68],[.72,4.35],[.78,4.1],[.84,3.85],[.7,4],[.76,3.7],[.82,3.4],[.72,3.3],[.78,3],[.86,2.92],[.72,2.75],[.66,2.5],[.74,2.45],[.88,3.15],[.6,3.1],[.65,3.6],[.6,4.2],[.55,4.45],[.4,4.3],[.36,4.1],[.3,3.6],[.26,3.2],[.22,2.9]];
const dGrey = [[-1.8,1.6],[1.77,1.65],[.91,.53],[.73,.43],[-1.14,.93],[-1.05,.99],[-1.22,1.88],[-1.23,1.59],[-1.09,1.63],[.89,1.92],[.92,1.73],[.79,1.63],[.89,1.06],[.69,.72],[.54,.34],[.76,1.35],[.84,1.2],[-.74,.58],[-.61,.38],[-1.08,1.82],[-1.02,1.42],[-.98,1.2],[-.86,.82],[.82,1.8],[.75,1.05],[.8,.85],[.62,.55],[-.5,.22],[.38,.18],[-1.15,1.8],[-1.05,1.95],[-1,1.6],[-.95,1.75],[-.9,1.35],[-1.02,1.2],[-.88,1.1],[-.82,.95],[.8,2],[.85,1.95],[.9,1.55],[.72,1.8],[.78,1.45],[.7,1.2],[.72,.95],[.62,.9],[.55,.55],[-.7,.75],[-.55,.5]];
const dGreyLevels = [0,.05,.15,.29,.5,.77,1.25,1.6,2];
const dGreyLeft = [-.02,-.15,-.3,-.43,-.55,-.69,-.79,-.9,-1.04];
const dGreyRight = [.02,.15,.3,.43,.52,.58,.66,.7,.76];
const dGapLevels = [.29,1,1.5,2];
const dGapLeft = [0,-.07,-.1,-.14];
const dGapRight = [0,.07,.1,.14];
const dGreyHaloLevels = [.1,.5,1,1.5,2];
const dGreyHaloLeft = [-.3,-.62,-.88,-1,-1.12];
const dGreyHaloRight = [.3,.6,.72,.8,.85];
const dBlueHaloLevels = [2,2.3,3,3.6,4,4.5,5,5.4];
const dBlueHaloLeft = [-1.15,-1.32,-1.42,-1.45,-1.35,-1.22,-1.05,-.9];
const dBlueHaloRight = [-.14,-.16,-.2,-.25,-.28,-.31,-.34,-.38];
const dBlueCoreLevels = [2,2.5,3,3.5,4,4.5];
const dBlueCoreLeft = [-1,-1.1,-1.2,-1.15,-1,-.85];
const dBlueCoreRight = [-.14,-.17,-.2,-.24,-.27,-.33];
const dRedHaloLevels = [2,3,4,5];
const dRedHaloLeft = [.14,.22,.3,.42];
const dRedHaloRight = [.72,.78,.72,.62];
const dRedCoreLevels = [2,2.5,3,3.5,3.8];
const dRedCoreLeft = [.14,.18,.22,.28,.33];
const dRedCoreRight = [.58,.62,.55,.52,.45];

/* ---------- Helpers ---------- */
const NS = 'http://www.w3.org/2000/svg';
const colorStops = [[0,[79,112,176]],[.125,[120,153,199]],[.25,[170,200,224]],[.375,[226,242,240]],[.5,[255,255,192]],[.625,[254,223,139]],[.75,[250,168,96]],[.875,[228,96,60]],[1,[189,44,34]]];
function rampColor(t){
  t = Math.max(0, Math.min(1, t));
  for (let i = 1; i < colorStops.length; i++) {
    if (t <= colorStops[i][0]) {
      const a = colorStops[i-1], b = colorStops[i];
      const f = (t - a[0]) / (b[0] - a[0]);
      return 'rgb(' + a[1].map((v, k) => Math.round(v + (b[1][k] - v) * f)).join(',') + ')';
    }
  }
  return 'rgb(189,44,34)';
}
function make(tag, attrs, parent){
  const el = document.createElementNS(NS, tag);
  for (const k in attrs) el.setAttribute(k, attrs[k]);
  parent.appendChild(el);
  return el;
}

/* ---------- Heatmap drawing ---------- */
function drawTree(node, leafX, baseY, parent, label){
  if (typeof node === 'number') return {x: leafX(node), y: baseY};
  const l = drawTree(node[1], leafX, baseY, parent, label);
  const r = drawTree(node[2], leafX, baseY, parent, label);
  const y = baseY - node[0];
  const link = make('path', {d: 'M' + l.x + ' ' + l.y + 'V' + y + 'H' + r.x + 'V' + r.y, fill: 'none', stroke: '#2a2a2a', 'stroke-width': 1.5}, parent);
  
  
  return {x: (l.x + r.x) / 2, y: y};
}
function drawLegend(parent, x, y, w, h, ticks, toT, labelX, labelBottom, labelSpan, prefix){
  const bar = make('rect', {x: x, y: y, width: w, height: h, fill: 'url(#rdylbu)'}, parent);
  
  
  ticks.forEach(v => {
    const t = make('text', {x: labelX, y: labelBottom - toT(v) * labelSpan + 6, 'font-size': 16, fill: '#222'}, parent);
    
    
    t.textContent = String(v);
  });
}
function drawSampleLabels(parent, names, leafX, top, len, prefix){
  names.forEach((name, i) => {
    const bx = leafX(i) - 8;
    const t = make('text', {transform: 'translate(' + bx + ' ' + top + ') rotate(90)', 'font-size': 15, fill: '#333', textLength: len}, parent);
    
    
    t.textContent = name;
  });
}

/* Heatmap A */
(function(){
  const g = document.getElementById('panelA');
  const cells = make('g', {filter: 'url(#soft)'}, g);
  
  
  const x0 = 92, x1 = 740, y0 = 95, y1 = 510;
  const cw = (x1 - x0) / heatAColumns.length;
  const rows = Math.max.apply(null, heatAColumns.map(c => c.length));
  const rh = (y1 - y0) / rows;
  const leafX = i => x0 + (i + .5) * cw;
  heatAColumns.forEach((col, c) => {
    col.forEach((v, r) => {
      const cell = make('rect', {x: x0 + c * cw, y: y0 + r * rh, width: cw + .3, height: rh + .2, fill: rampColor(v), 'shape-rendering': 'crispEdges'}, cells);
      
      
    });
  });
  drawTree(heatATree, leafX, 96, g, 'heatmap-a-column-dendrogram-link');
  drawLegend(g, 749, 96, 16, 253, heatATicks, v => v, 771, 350, 253, 'heatmap-a');
  drawSampleLabels(g, heatASamples, leafX, 517, 93, 'heatmap-a');
})();

/* Heatmap B */
(function(){
  const g = document.getElementById('panelB');
  const cells = make('g', {filter: 'url(#soft)'}, g);
  
  
  const x0 = 975, x1 = 1622, y0 = 91, y1 = 517;
  const n = heatBSamples.length;
  const cw = (x1 - x0) / n;
  const total = heatBRowGenes.reduce((a, b) => a + b, 0);
  const leafX = i => x0 + (i + .5) * cw;
  let y = y0;
  heatBRows.forEach((row, r) => {
    const h = heatBRowGenes[r] / total * (y1 - y0);
    row.forEach((v, c) => {
      const cell = make('rect', {x: x0 + c * cw, y: y, width: cw + .3, height: h + .2, fill: rampColor((v - 2) / 12), 'shape-rendering': 'crispEdges'}, cells);
      
      
    });
    y += h;
  });
  drawTree(heatBTree, leafX, 91, g, 'heatmap-b-column-dendrogram-link');
  drawLegend(g, 1631, 91, 17, 253, heatBTicks, v => (v - 2) / 12, 1654, 345, 248, 'heatmap-b');
  drawSampleLabels(g, heatBSamples, leafX, 522, 83, 'heatmap-b');
})();

/* ---------- Volcano drawing ---------- */
function bandPoints(levels, left, right, sx, sy){
  const a = levels.map((p, i) => sx(left[i]) + ',' + sy(p));
  const b = levels.map((p, i) => sx(right[i]) + ',' + sy(p)).reverse();
  return a.concat(b).join(' ');
}
function drawVolcano(g, prefix, box, sx, sy, xTicks, yTicks, xMinor, yMinor, threshold, labelY, labelX){
  xMinor.forEach(v => {
    const l = make('line', {x1: sx(v), x2: sx(v), y1: box.top, y2: box.bottom, stroke: '#eee', 'stroke-width': 1.2}, g);
    
    
  });
  yMinor.forEach(v => {
    const l = make('line', {x1: box.left, x2: box.right, y1: sy(v), y2: sy(v), stroke: '#eee', 'stroke-width': 1.5}, g);
    
    
  });
  xTicks.forEach(v => {
    const l = make('line', {x1: sx(v), x2: sx(v), y1: box.top, y2: box.bottom, stroke: '#bdbdbd', 'stroke-width': 1.2, 'stroke-dasharray': '5 4'}, g);
    
    
    const t = make('text', {x: sx(v), y: labelY, 'text-anchor': 'middle', 'font-size': 16, fill: '#777'}, g);
    
    
    t.textContent = String(v);
  });
  yTicks.forEach(v => {
    const l = make('line', {x1: box.left + 5, x2: box.right, y1: sy(v), y2: sy(v), stroke: '#bdbdbd', 'stroke-width': 1.4, 'stroke-dasharray': '3 3'}, g);
    
    
    const t = make('text', {x: labelX, y: sy(v) + 6, 'text-anchor': 'end', 'font-size': 16, fill: '#777'}, g);
    
    
    t.textContent = String(v);
  });
}
function drawBand(g, prefix, name, levels, left, right, sx, sy, color, opacity){
  const b = make('polygon', {points: bandPoints(levels, left, right, sx, sy), fill: color, 'fill-opacity': opacity}, g);
  
  
}
function drawPoints(g, prefix, name, pts, sx, sy, color){
  pts.forEach(p => {
    const c = make('circle', {cx: sx(p[0]), cy: sy(p[1]), r: 2.5, fill: color, 'fill-opacity': .5, stroke: color, 'stroke-opacity': .65, 'stroke-width': 1}, g);
    
    
  });
}
function drawFrame(g, prefix, box, sy, threshold){
  const th = make('line', {x1: box.left, x2: box.right, y1: sy(threshold), y2: sy(threshold), stroke: '#3c3cf0', 'stroke-width': 2, 'stroke-dasharray': '3 2.5'}, g);
  
  
  const ax = make('path', {d: 'M' + box.left + ' ' + box.top + 'V' + box.bottom + 'H' + box.right, fill: 'none', stroke: '#555', 'stroke-width': 1.8}, g);
  
  
}

/* Volcano C */
(function(){
  const g = document.getElementById('panelC');
  const box = {left: 138, right: 700, top: 666, bottom: 1105};
  const sx = v => 389 + v * 35.8;
  const sy = v => 1085 - v * 51.4;
  drawVolcano(g, 'volcano-c', box, sx, sy, cXTicks, cYTicks, cXMinor, cYMinor, cThreshold, 1127, 131);
  drawBand(g, 'volcano-c', 'grey-halo', cGreyHaloLevels, cGreyHaloLeft, cGreyHaloRight, sx, sy, '#bdbdbd', .35);
  drawBand(g, 'volcano-c', 'grey-core', cGreyLevels, cGreyLeft, cGreyRight, sx, sy, '#bdbdbd', 1);
  drawBand(g, 'volcano-c', 'center-gap', cGapLevels, cGapLeft, cGapRight, sx, sy, '#fff', 1);
  drawPoints(g, 'volcano-c', 'not-significant-point', cGrey, sx, sy, '#b5b5b5');
  drawBand(g, 'volcano-c', 'blue-halo', cBlueHaloLevels, cBlueHaloLeft, cBlueHaloRight, sx, sy, '#0000ff', .4);
  drawBand(g, 'volcano-c', 'blue-core', cBlueCoreLevels, cBlueCoreLeft, cBlueCoreRight, sx, sy, '#0000f0', 1);
  drawBand(g, 'volcano-c', 'red-halo', cRedHaloLevels, cRedHaloLeft, cRedHaloRight, sx, sy, '#dd1111', .4);
  drawBand(g, 'volcano-c', 'red-core', cRedCoreLevels, cRedCoreLeft, cRedCoreRight, sx, sy, '#dc0000', 1);
  drawPoints(g, 'volcano-c', 'down-regulated-point', cBlue, sx, sy, '#1414ee');
  drawPoints(g, 'volcano-c', 'up-regulated-point', cRed, sx, sy, '#d41c1c');
  drawFrame(g, 'volcano-c', box, sy, cThreshold);
})();

/* Volcano D */
(function(){
  const g = document.getElementById('panelD');
  const box = {left: 1020.5, right: 1583, top: 656, bottom: 1095};
  const sx = v => 1357.7 + v * 111.2;
  const sy = v => 1075.5 - v * 35.6;
  drawVolcano(g, 'volcano-d', box, sx, sy, dXTicks, dYTicks, dXMinor, dYMinor, dThreshold, 1116, 1014);
  drawBand(g, 'volcano-d', 'grey-halo', dGreyHaloLevels, dGreyHaloLeft, dGreyHaloRight, sx, sy, '#bdbdbd', .35);
  drawBand(g, 'volcano-d', 'grey-core', dGreyLevels, dGreyLeft, dGreyRight, sx, sy, '#bdbdbd', 1);
  drawBand(g, 'volcano-d', 'center-gap', dGapLevels, dGapLeft, dGapRight, sx, sy, '#fff', 1);
  drawPoints(g, 'volcano-d', 'not-significant-point', dGrey, sx, sy, '#b5b5b5');
  drawBand(g, 'volcano-d', 'blue-halo', dBlueHaloLevels, dBlueHaloLeft, dBlueHaloRight, sx, sy, '#0000ff', .45);
  drawBand(g, 'volcano-d', 'blue-core', dBlueCoreLevels, dBlueCoreLeft, dBlueCoreRight, sx, sy, '#0000f0', 1);
  drawBand(g, 'volcano-d', 'red-halo', dRedHaloLevels, dRedHaloLeft, dRedHaloRight, sx, sy, '#dd1111', .45);
  drawBand(g, 'volcano-d', 'red-core', dRedCoreLevels, dRedCoreLeft, dRedCoreRight, sx, sy, '#dc0000', 1);
  drawPoints(g, 'volcano-d', 'down-regulated-point', dBlue, sx, sy, '#1414ee');
  drawPoints(g, 'volcano-d', 'up-regulated-point', dRed, sx, sy, '#d41c1c');
  drawFrame(g, 'volcano-d', box, sy, dThreshold);
})();
</script>
</body>
</html>
